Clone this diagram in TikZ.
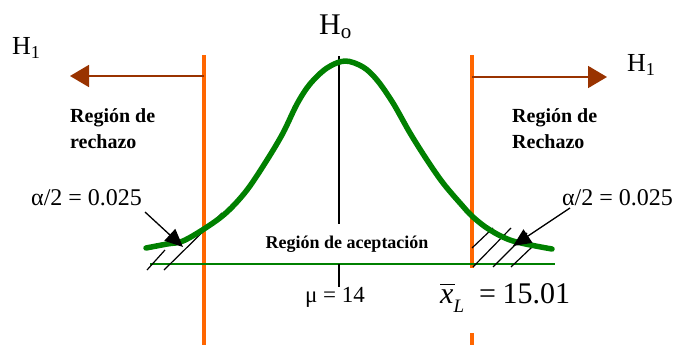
\documentclass[tikz,border=0pt]{standalone}
\usepackage{fontspec}
\setmainfont{Liberation Serif}
\usetikzlibrary{arrows.meta}
\definecolor{orangeL}{RGB}{255,102,0}
\definecolor{brownA}{RGB}{153,51,0}
\definecolor{greenC}{RGB}{0,128,0}
\tikzset{
  fs/.style={font=\fontsize{#1}{#1}\selectfont},
  boldlbl/.style={font=\bfseries\fontsize{20}{20}\selectfont, inner sep=0pt, anchor=west},
  limitline/.style={draw=orangeL, line width=3.2pt},
  harrow/.style={draw=brownA, line width=1.8pt, -{Triangle[length=19pt,width=22pt]}},
  blackarrow/.style={draw=black, line width=1.3pt, -{Triangle[length=18pt,width=16pt]}},
  hatch/.style={draw=black, line width=1.2pt},
  curve/.style={draw=greenC, line width=5.5pt, line cap=round, line join=round},
  base/.style={draw=greenC, line width=1.6pt},
  lbl/.style={inner sep=0pt}
}
\begin{document}
\begin{tikzpicture}[x=1pt,y=-1pt]
\useasboundingbox (0,0) rectangle (676,345);
% limit lines
\coordinate (LT) at (204,55);
\coordinate (LB) at (204,345);
\coordinate (RT) at (472,55);
\coordinate (RM) at (472,268);
\coordinate (RM2) at (472,333);
\coordinate (RB) at (472,345);
\draw[limitline] (LT) -- (LB);
\draw[limitline] (RT) -- (RM);
\draw[limitline] (RM2) -- (RB);
% H1 arrows
\coordinate (LA0) at (204,76);
\coordinate (LA1) at (70,76);
\coordinate (RA0) at (472,77);
\coordinate (RA1) at (607,77);
\draw[harrow] (LA0) -- (LA1);
\draw[harrow] (RA0) -- (RA1);
% baseline
\coordinate (B0) at (150,264);
\coordinate (B1) at (555,264);
\draw[base] (B0) -- (B1);
% mean line
\coordinate (M0) at (339,56);
\coordinate (M1) at (339,224);
\coordinate (M2) at (339,264);
\coordinate (M3) at (339,287);
\draw[line width=1.3pt] (M0) -- (M1);
\draw[line width=1.3pt] (M2) -- (M3);
% hatching
\draw[hatch] (147,270) -- (165,250);
\draw[hatch] (164,270) -- (222,213);
\draw[hatch] (472,248) -- (493,228);
\draw[hatch] (473,267) -- (511,228);
\draw[hatch] (493,267) -- (527,233);
\draw[hatch] (511,267) -- (532,247);
% bell curve
\draw[curve] plot[smooth, tension=0.55] coordinates {
 (146,248) (167,244) (183,241) (207,227) (227,212) (247,190) (267,160)
 (283,133) (297,104) (310,84) (327,68) (345,61) (363,67) (377,80)
 (393,103) (410,133) (427,160) (443,183) (460,203) (473,217) (490,230)
 (513,241) (552,249)};
% labels
\node[lbl, fs=26, anchor=west] (H1L) at (12,48) {H\textsubscript{1}};
\node[lbl, fs=26, anchor=west] (H1R) at (627,65) {H\textsubscript{1}};
\node[lbl, fs=30, anchor=west] (H0) at (319,27) {H\textsubscript{o}};
\node[boldlbl] (RRL1) at (70,118) {Región de};
\node[boldlbl] (RRL2) at (70,142) {rechazo};
\node[boldlbl] (RRR1) at (512,118) {Región de};
\node[boldlbl] (RRR2) at (512,142) {Rechazo};
\node[lbl, font=\bfseries\fontsize{18}{18}\selectfont] (RA) at (347,244) {Región de aceptación};
\node[lbl, fs=24, anchor=west] (AL) at (31,198) {α/2 = 0.025};
\node[lbl, fs=24, anchor=east] (AR) at (673,198) {α/2 = 0.025};
\node[lbl, fs=23] (MU) at (335,297) {μ = 14};
\node[lbl, fs=30, anchor=west] (XL) at (440,298) {\rlap{\raisebox{0.62em}{\rule{0.5em}{1.1pt}}}\textit{x}\raisebox{-0.3em}{\fontsize{19}{19}\selectfont\textit{L}}\hspace{0.5em}=\hspace{0.22em}15.01};
% small arrows
\coordinate (AL0) at (145,212);
\coordinate (AL1) at (183,247);
\coordinate (AR0) at (570,208);
\coordinate (AR1) at (513,246);
\draw[blackarrow] (AL0) -- (AL1);
\draw[blackarrow] (AR0) -- (AR1);
\end{tikzpicture}
\end{document}
